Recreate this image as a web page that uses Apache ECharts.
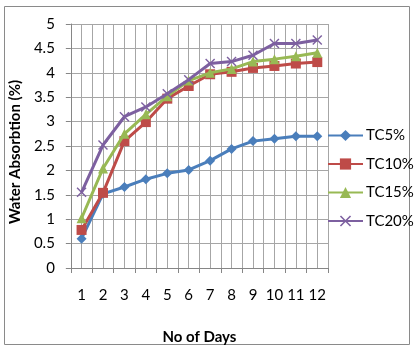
<!DOCTYPE html>
<html><head><meta charset="utf-8">
<script src="https://cdn.jsdelivr.net/npm/echarts@6/dist/echarts.min.js"></script>
<style>html,body{margin:0;padding:0;background:#fff}#c{width:416px;height:350px}</style>
</head><body><div id="c"></div>
<script>
var days = ['1','2','3','4','5','6','7','8','9','10','11','12'];
var tc5  = [0.60,1.52,1.66,1.82,1.94,2.01,2.20,2.44,2.60,2.65,2.70,2.70];
var tc10 = [0.78,1.54,2.60,2.99,3.47,3.73,3.97,4.02,4.10,4.14,4.19,4.22];
var tc15 = [1.02,2.04,2.75,3.15,3.52,3.84,4.00,4.08,4.23,4.28,4.34,4.41];
var tc20 = [1.55,2.52,3.10,3.30,3.57,3.86,4.19,4.23,4.36,4.60,4.60,4.67];
var names = ['TC5%','TC10%','TC15%','TC20%'];
var colors = ['#4A7EBB','#BE4B48','#98B954','#7D60A0'];
var crossPath = 'path://M0,1L1,0L5,4L9,0L10,1L6,5L10,9L9,10L5,6L1,10L0,9L4,5Z';
var symbols = ['diamond','rect','triangle',crossPath];
var sizes = [10,10,10,10];
var data = [tc5,tc10,tc15,tc20];
var font = 'Lato, "Liberation Sans", sans-serif';
var chart = echarts.init(document.getElementById('c'));
var series = data.map(function(d,i){
  return {
    name: names[i], type:'line', data:d, xAxisIndex:0,
    symbol: symbols[i], symbolSize: sizes[i], showAllSymbol:true,
    lineStyle:{color:colors[i], width:3},
    itemStyle:{color:colors[i]},
    z: 10+i
  };
});
chart.setOption({
  animation:false,
  backgroundColor:'#fff',
  graphic:[{type:'rect', shape:{x:4.5,y:6.5,width:405,height:338}, style:{fill:'none', stroke:'#8a8a8a', lineWidth:1}, z:-1}],
  grid:{left:66,right:88,top:24,bottom:80},
  legend:{
    orient:'vertical', left:322, top:123, itemWidth:35, itemHeight:14, itemGap:13.5,
    data:names,
    textStyle:{fontFamily:font, fontSize:15, color:'#000', padding:[0,0,0,-2]}
  },
  xAxis:[{
    type:'category', data:days, boundaryGap:true,
    name:'No of Days', nameLocation:'middle', nameGap:62,
    nameTextStyle:{fontFamily:font, fontSize:15, fontWeight:'bold', color:'#000'},
    axisLine:{lineStyle:{color:'#868686'}},
    axisTick:{show:true, alignWithLabel:false, length:5, lineStyle:{color:'#868686'}},
    axisLabel:{fontFamily:font, fontSize:15, color:'#000', margin:20, interval:0},
    splitLine:{show:true, interval:0, lineStyle:{color:'#a6a6a6'}}
  },{
    type:'value', min:0, max:24, interval:1, position:'bottom',
    axisLine:{show:false}, axisTick:{show:false}, axisLabel:{show:false},
    splitLine:{show:true, lineStyle:{color:'#a6a6a6'}}
  }],
  yAxis:{
    type:'value', min:0, max:5, interval:0.5,
    name:'Water Absorbtion (%)', nameLocation:'middle', nameGap:46,
    nameTextStyle:{fontFamily:font, fontSize:15, fontWeight:'bold', color:'#000', padding:[0,12,0,0]},
    axisLine:{show:true, lineStyle:{color:'#868686'}},
    axisTick:{show:true, length:5, lineStyle:{color:'#868686'}},
    axisLabel:{fontFamily:font, fontSize:15, color:'#000', margin:16},
    splitLine:{show:true, lineStyle:{color:'#a6a6a6'}}
  },
  series:series
});
</script></body></html>
